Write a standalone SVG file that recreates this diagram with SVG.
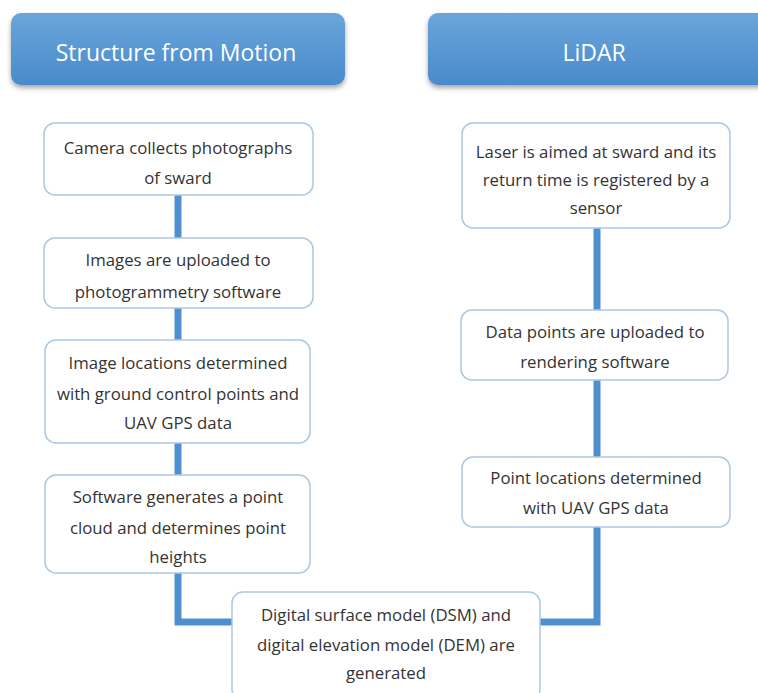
<svg xmlns="http://www.w3.org/2000/svg" width="758" height="693" viewBox="0 0 758 693">
<defs>
<linearGradient id="hg" x1="0" y1="0" x2="0" y2="1">
<stop offset="0" stop-color="#6aa6dc"/>
<stop offset="1" stop-color="#4a8acb"/>
</linearGradient>
<filter id="sh" x="-10%" y="-20%" width="120%" height="150%">
<feDropShadow dx="0" dy="3" stdDeviation="2.5" flood-color="#000" flood-opacity="0.35"/>
</filter>
<style>
.hd{fill:url(#hg);filter:url(#sh)}
.ht{fill:#fff;font-family:"Open Sans","Liberation Sans",sans-serif;font-size:23px;text-anchor:middle}
.bx{fill:#fff;stroke:#a9c8e4;stroke-width:1.5}
.t{fill:#333;font-family:"Open Sans","Liberation Sans",sans-serif;font-size:16.8px;text-anchor:middle}
.c{fill:none;stroke:#4f8fd0;stroke-width:7}
</style>
</defs>
<rect width="758" height="693" fill="#fff"/>
<g id="connectors">
<line class="c" x1="178" y1="195" x2="178" y2="238"/>
<line class="c" x1="178" y1="308" x2="178" y2="340"/>
<line class="c" x1="178" y1="443" x2="178" y2="475"/>
<polyline class="c" points="178,573 178,622 233,622"/>
<line class="c" x1="597" y1="228" x2="597" y2="310"/>
<line class="c" x1="597" y1="380" x2="597" y2="457"/>
<polyline class="c" points="597,527 597,622 540,622"/>
</g>
<g id="h1">
<rect class="hd" x="11" y="13" width="334" height="72" rx="10"/>
<text class="ht" x="176" y="61">Structure from Motion</text>
</g>
<g id="h2">
<rect class="hd" x="428" y="13" width="340" height="72" rx="10"/>
<text class="ht" x="594" y="61">LiDAR</text>
</g>
<g id="s1">
<rect class="bx" x="44" y="123" width="269" height="72" rx="11"/>
<text class="t" x="178" y="154">Camera collects photographs</text>
<text class="t" x="178" y="184">of sward</text>
</g>
<g id="s2">
<rect class="bx" x="44" y="238" width="269" height="70" rx="11"/>
<text class="t" x="178" y="266">Images are uploaded to</text>
<text class="t" x="178" y="298">photogrammetry software</text>
</g>
<g id="s3">
<rect class="bx" x="45" y="340" width="265" height="103" rx="11"/>
<text class="t" x="178" y="369">Image locations determined</text>
<text class="t" x="178" y="400">with ground control points and</text>
<text class="t" x="178" y="429">UAV GPS data</text>
</g>
<g id="s4">
<rect class="bx" x="45" y="475" width="265" height="98" rx="11"/>
<text class="t" x="178" y="503">Software generates a point</text>
<text class="t" x="178" y="534">cloud and determines point</text>
<text class="t" x="178" y="563">heights</text>
</g>
<g id="l1">
<rect class="bx" x="462" y="123" width="268" height="105" rx="11"/>
<text class="t" x="596" y="158">Laser is aimed at sward and its</text>
<text class="t" x="596" y="186">return time is registered by a</text>
<text class="t" x="596" y="214">sensor</text>
</g>
<g id="l2">
<rect class="bx" x="461" y="310" width="267" height="70" rx="11"/>
<text class="t" x="595" y="338">Data points are uploaded to</text>
<text class="t" x="595" y="368">rendering software</text>
</g>
<g id="l3">
<rect class="bx" x="462" y="457" width="268" height="70" rx="11"/>
<text class="t" x="596" y="484">Point locations determined</text>
<text class="t" x="596" y="514">with UAV GPS data</text>
</g>
<g id="out">
<rect class="bx" x="232" y="592" width="308" height="108" rx="11"/>
<text class="t" x="386" y="621">Digital surface model (DSM) and</text>
<text class="t" x="386" y="651">digital elevation model (DEM) are</text>
<text class="t" x="386" y="679">generated</text>
</g>
</svg>
